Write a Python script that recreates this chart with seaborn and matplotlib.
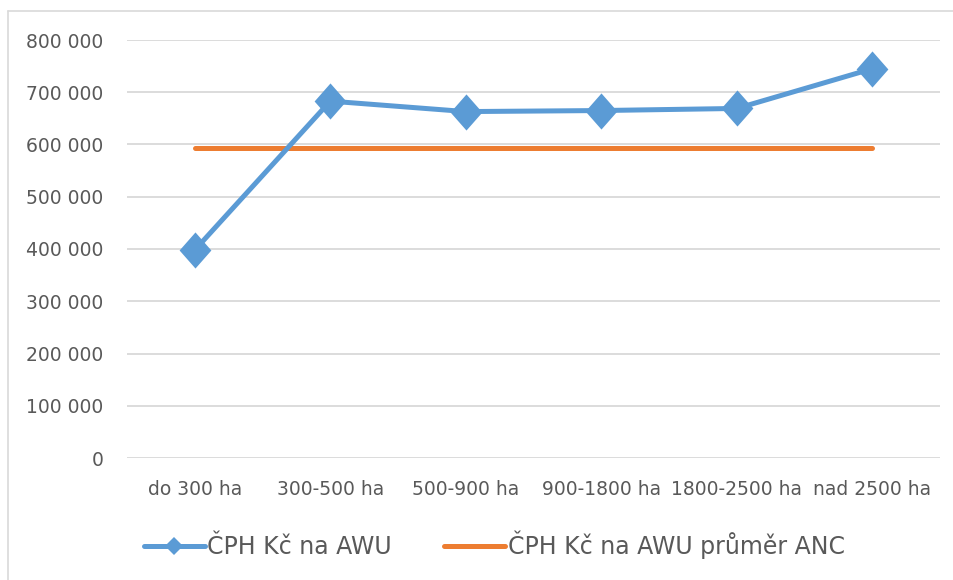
import pandas as pd
import numpy as np
import matplotlib.pyplot as plt
import matplotlib.ticker as ticker
from matplotlib.lines import Line2D
import seaborn as sns

# data
categories = ['do 300 ha', '300-500 ha', '500-900 ha', '900-1800 ha', '1800-2500 ha', 'nad 2500 ha']
cph_awu = [398000, 683000, 663000, 665000, 669000, 745000]
cph_awu_avg = [593000, 593000, 593000, 593000, 593000, 593000]
y_ticks = [0, 100000, 200000, 300000, 400000, 500000, 600000, 700000, 800000]

label_blue = 'ČPH Kč na AWU'
label_orange = 'ČPH Kč na AWU průměr ANC'

blue = '#5b9bd5'
orange = '#ed7d31'
grid_col = '#d9d9d9'
text_col = '#595959'

sns.set_style('white')
plt.rcParams['font.family'] = ['DejaVu Sans']

df = pd.DataFrame({'cat': categories, 'blue': cph_awu, 'orange': cph_awu_avg})
df['x'] = np.arange(len(categories))

fig = plt.figure(figsize=(9.54, 5.80), dpi=100)
ax = fig.add_axes([127 / 954, 1 - 458 / 580, 813 / 954, 418 / 580])

# diamond a bit taller than wide, like the Excel marker
diamond = [(-0.44, 0), (0, 0.5), (0.44, 0), (0, -0.5), (-0.44, 0)]

sns.lineplot(data=df, x='x', y='orange', ax=ax, color=orange, linewidth=3.6,
             solid_capstyle='round', legend=False)
sns.lineplot(data=df, x='x', y='blue', ax=ax, color=blue, linewidth=3.6,
             marker=diamond, markersize=26, markeredgewidth=0,
             markerfacecolor=blue, legend=False)

ax.set_xlim(-0.5, len(categories) - 0.5)
ax.set_ylim(0, 800000)
ax.set_yticks(y_ticks)
ax.yaxis.set_major_formatter(ticker.FuncFormatter(lambda v, p: f'{int(v):,}'.replace(',', ' ')))
ax.set_xticks(df['x'])
ax.set_xticklabels(categories)
ax.set_xlabel('')
ax.set_ylabel('')
ax.grid(axis='y', color=grid_col, linewidth=1.3)
ax.set_axisbelow(True)
for s in ax.spines.values():
    s.set_visible(False)
ax.tick_params(axis='both', length=0, labelsize=13.5, colors=text_col)
ax.tick_params(axis='y', pad=17)
ax.tick_params(axis='x', pad=16)

handles = [
    Line2D([], [], color=blue, linewidth=3.6, marker='D', markersize=9, markeredgewidth=0),
    Line2D([], [], color=orange, linewidth=3.6, solid_capstyle='round'),
]
leg = fig.legend(handles, [label_blue, label_orange], loc='center', ncol=2,
                 bbox_to_anchor=(0.518, 1 - 545 / 580), frameon=False,
                 fontsize=17, handlelength=2.6, handletextpad=0.1,
                 columnspacing=2.2, labelcolor=text_col)

# light frame around the chart area (top and left visible)
fig.add_artist(Line2D([8 / 954, 1], [1 - 11 / 580, 1 - 11 / 580], color=grid_col,
                      linewidth=1.2, transform=fig.transFigure))
fig.add_artist(Line2D([8 / 954, 8 / 954], [0, 1 - 11 / 580], color=grid_col,
                      linewidth=1.2, transform=fig.transFigure))

fig.savefig('out.png', dpi=100)
